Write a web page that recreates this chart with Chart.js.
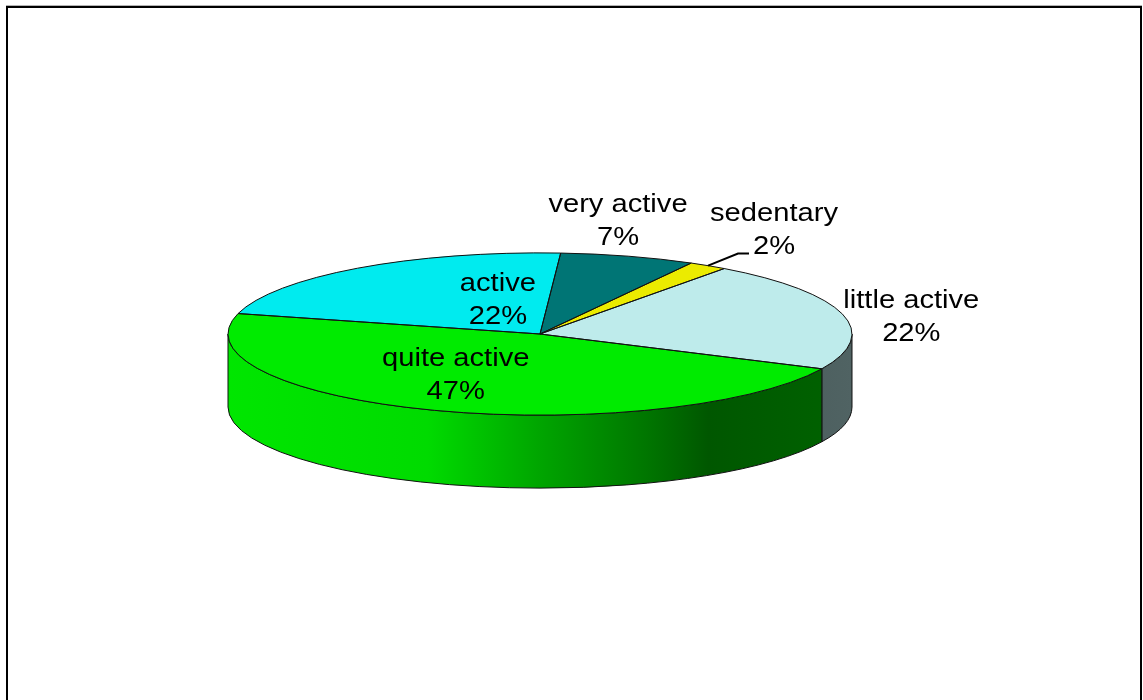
<!DOCTYPE html>
<html>
<head>
<meta charset="utf-8">
<script src="https://cdn.jsdelivr.net/npm/chart.js@4.4.0/dist/chart.umd.min.js"></script>
<style>
    html, body { margin: 0; padding: 0; background: #fff; overflow: hidden; }
    #frame {
        position: absolute; left: 6px; top: 6px; width: 1136px; height: 760px;
        border: 2px solid #000; box-sizing: border-box; box-shadow: 0 -1px 0 #b4b4b4;
    }
    #c1 { position: absolute; left: 0; top: 0; }
</style>
</head>
<body>
<div id="frame"></div>
<canvas id="c1" width="1143" height="700"></canvas>
<script>
var categories = ['sedentary', 'little active', 'quite active', 'active', 'very active'];
var shares = [2, 22, 47, 22, 7];
var sliceColors = ['#EBEB00', '#BEEBEB', '#00EB00', '#00EBEF', '#007575'];

// label centres in units of the pie radii, measured from the pie centre
var labelOffsets = [[0.75, -1.30], [1.19, -0.22], [-0.27, 0.49], [-0.135, -0.43], [0.25, -1.41]];
var leaderLines = [true, false, false, false, false];

var tilt = 0.26;   // height/width of the top ellipse
var depth = 73;    // thickness of the disc in px

// brightness of the rim from left (0) to right (1)
var sideLight = [[0, 0.98], [0.32, 0.93], [0.5, 0.7], [0.67, 0.5], [0.77, 0.37], [1, 0.42]];

function shade(hex, f) {
    var n = parseInt(hex.slice(1), 16);
    var r = Math.round(((n >> 16) & 255) * f);
    var g = Math.round(((n >> 8) & 255) * f);
    var b = Math.round((n & 255) * f);
    return 'rgb(' + r + ',' + g + ',' + b + ')';
}

var pie3d = {
    id: 'pie3d',
    beforeDatasetsDraw: function(chart) {
        var ctx = chart.ctx;
        var arcs = chart.getDatasetMeta(0).data;
        var cx = arcs[0].x, cy = arcs[0].y, r = arcs[0].outerRadius, ry = r * tilt;

        // rim: only the front half (0..PI) can be seen
        ctx.save();
        ctx.lineWidth = 1;
        ctx.strokeStyle = '#111';
        arcs.forEach(function(arc, i) {
            [-2 * Math.PI, 0, 2 * Math.PI].forEach(function(shift) {
                var a = Math.max(arc.startAngle, shift);
                var b = Math.min(arc.endAngle, shift + Math.PI);
                if (b <= a) return;
                a -= shift; b -= shift;
                var grad = ctx.createLinearGradient(cx - r, 0, cx + r, 0);
                sideLight.forEach(function(s) { grad.addColorStop(s[0], shade(sliceColors[i], s[1])); });
                ctx.beginPath();
                ctx.ellipse(cx, cy, r, ry, 0, a, b, false);
                ctx.ellipse(cx, cy + depth, r, ry, 0, b, a, true);
                ctx.closePath();
                ctx.fillStyle = grad;
                ctx.fill();
                ctx.stroke();
            });
        });
        ctx.restore();

        // squash the round pie into the top ellipse
        ctx.save();
        ctx.translate(cx, cy);
        ctx.scale(1, tilt);
        ctx.translate(-cx, -cy);
    },
    afterDatasetsDraw: function(chart) {
        var ctx = chart.ctx;
        ctx.restore();

        var arcs = chart.getDatasetMeta(0).data;
        var cx = arcs[0].x, cy = arcs[0].y, r = arcs[0].outerRadius, ry = r * tilt;
        var total = shares.reduce(function(s, v) { return s + v; }, 0);

        ctx.save();
        ctx.lineWidth = 1;
        ctx.strokeStyle = '#111';
        arcs.forEach(function(arc) {
            ctx.beginPath();
            ctx.moveTo(cx, cy);
            ctx.ellipse(cx, cy, r, ry, 0, arc.startAngle, arc.endAngle, false);
            ctx.closePath();
            ctx.stroke();
        });

        ctx.font = '26px "Liberation Sans", Arial, sans-serif';
        ctx.fillStyle = '#000';
        ctx.textAlign = 'center';
        ctx.textBaseline = 'alphabetic';
        categories.forEach(function(name, i) {
            var lx = cx + labelOffsets[i][0] * r;
            var ly = cy + labelOffsets[i][1] * ry;
            var pct = Math.round(shares[i] / total * 100) + '%';
            ctx.save();
            ctx.translate(lx, ly);
            ctx.scale(1.12, 1);
            ctx.fillText(name, 0, -8);
            ctx.fillText(pct, 0, 25);
            ctx.restore();
            if (leaderLines[i]) {
                var mid = (arcs[i].startAngle + arcs[i].endAngle) / 2;
                ctx.beginPath();
                ctx.moveTo(cx + r * Math.cos(mid), cy + ry * Math.sin(mid));
                ctx.lineTo(lx - 36, ly + 25);
                ctx.lineTo(lx - 25, ly + 25);
                ctx.lineWidth = 2;
                ctx.strokeStyle = '#000';
                ctx.stroke();
            }
        });
        ctx.restore();
    }
};

var ctx = document.getElementById('c1').getContext('2d');
var chart = new Chart(ctx, {
    type: 'pie',
    data: {
        labels: categories,
        datasets: [{
            data: shares,
            backgroundColor: sliceColors,
            borderWidth: 0
        }]
    },
    options: {
        responsive: false,
        animation: false,
        events: [],
        rotation: 29,
        layout: { padding: { left: 100, right: 163, top: 22, bottom: 54 } },
        plugins: {
            legend: { display: false },
            tooltip: { enabled: false }
        }
    },
    plugins: [pie3d]
});
</script>
</body>
</html>
